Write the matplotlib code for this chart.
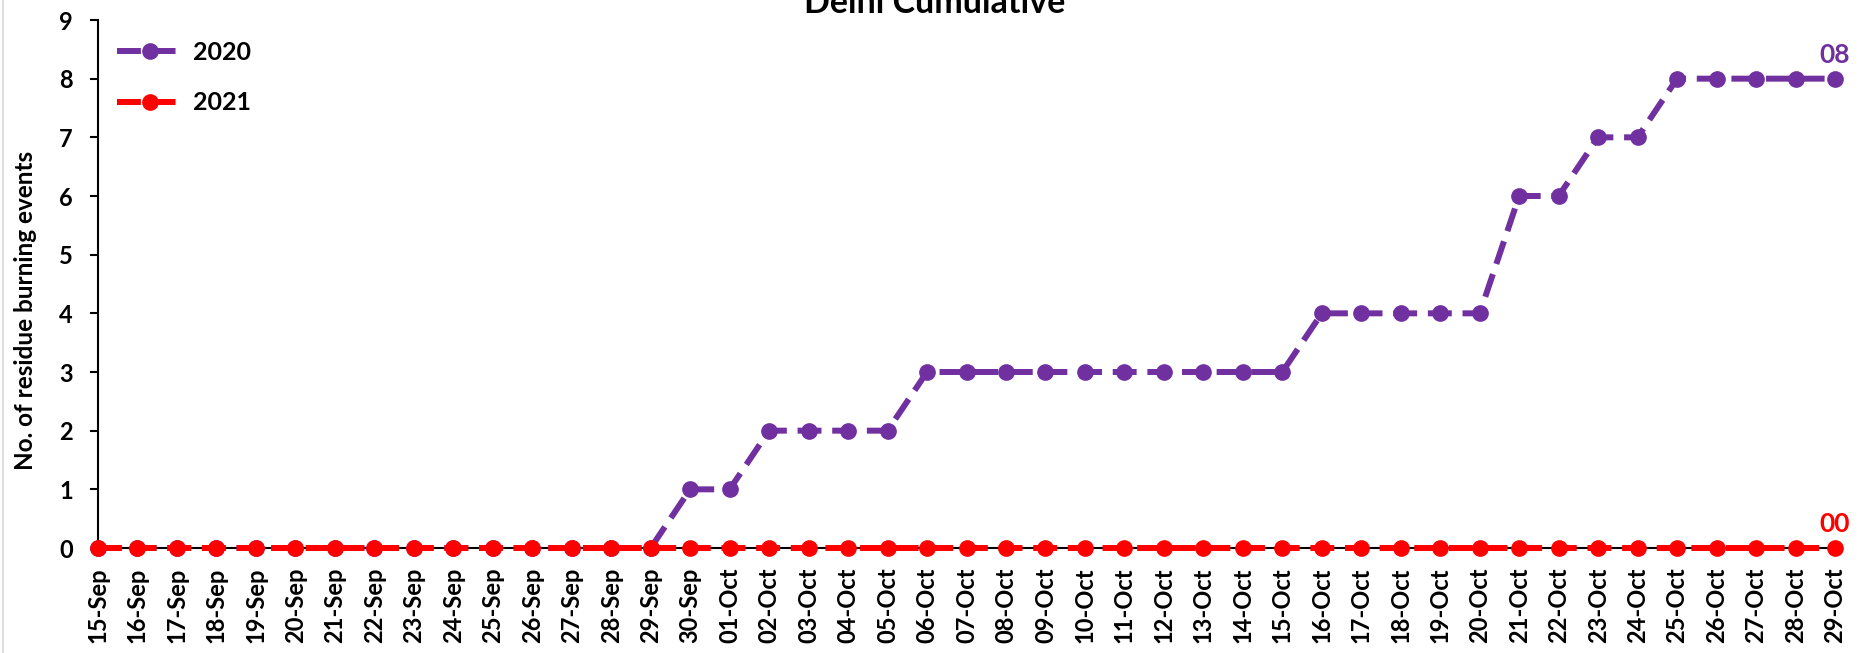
import matplotlib.pyplot as plt
from matplotlib.lines import Line2D

plt.rcParams['font.family'] = ['Lato', 'DejaVu Sans']
plt.rcParams['font.weight'] = 'bold'

# dates 15-Sep .. 29-Oct
dates = [f"{d}-Sep" for d in range(15, 31)] + [f"{d:02d}-Oct" for d in range(1, 30)]
y2020 = [0] * 15 + [1, 1, 2, 2, 2, 2] + [3] * 10 + [4] * 5 + [6, 6, 7, 7, 8, 8, 8, 8, 8]
y2021 = [0] * 45

purple = '#7030A0'
red = '#FF0000'

W, H = 1870, 653
fig = plt.figure(figsize=(W / 100, H / 100), dpi=100)
ax = fig.add_axes([98 / W, 1 - 548 / H, (1835 - 98) / W, (548 - 20) / H])

# light grey chart border on the left
fig.add_artist(Line2D([3 / W, 3 / W], [0, 1], color='#D9D9D9', lw=1.2))

x = list(range(len(dates)))
dash = (0, (4, 1.8))
ax.plot(x, y2020, color=purple, lw=4.3, ls=dash, marker='o', ms=11, label='2020',
        clip_on=False, zorder=3)
ax.plot(x, y2021, color=red, lw=4.3, ls=dash, marker='o', ms=11, label='2021',
        clip_on=False, zorder=4)

ax.text(x[-1], y2020[-1] + 0.27, "08", color=purple, fontsize=19, fontweight='bold',
        ha='center', va='baseline')
ax.text(x[-1], y2021[-1] + 0.27, "00", color=red, fontsize=19, fontweight='bold',
        ha='center', va='baseline')

ax.set_xlim(0, len(dates) - 1)
ax.set_ylim(0, 9)
ax.set_yticks(range(10))
ax.set_xticks(x)
ax.set_xticklabels(dates, rotation=90, fontsize=17, fontweight='bold')
ax.tick_params(axis='y', labelsize=17, width=1.5, length=6, pad=12)
ax.tick_params(axis='x', width=1.5, length=5, pad=9)
for s in ['top', 'right']:
    ax.spines[s].set_visible(False)
ax.spines['left'].set_linewidth(1.5)
ax.spines['bottom'].set_linewidth(1.5)
ax.spines['bottom'].set_zorder(0)

ax.set_ylabel("No. of residue burning events", fontsize=17.5, fontweight='bold')
ax.yaxis.set_label_coords(-0.035, 0.45)

# title sits partly above the top edge, as in the original
fig.text(0.5, 1 - 13 / H, "Delhi Cumulative", fontsize=24.5, fontweight='bold',
         ha='center', va='baseline')

ax.legend(loc='upper left', frameon=False, bbox_to_anchor=(117 / W, 1 - 41 / H),
          bbox_transform=fig.transFigure, borderaxespad=0, borderpad=0,
          handlelength=2.6, handletextpad=0.45, labelspacing=1.1,
          prop={'weight': 'bold', 'size': 18})

fig.savefig("out.png", dpi=100)
